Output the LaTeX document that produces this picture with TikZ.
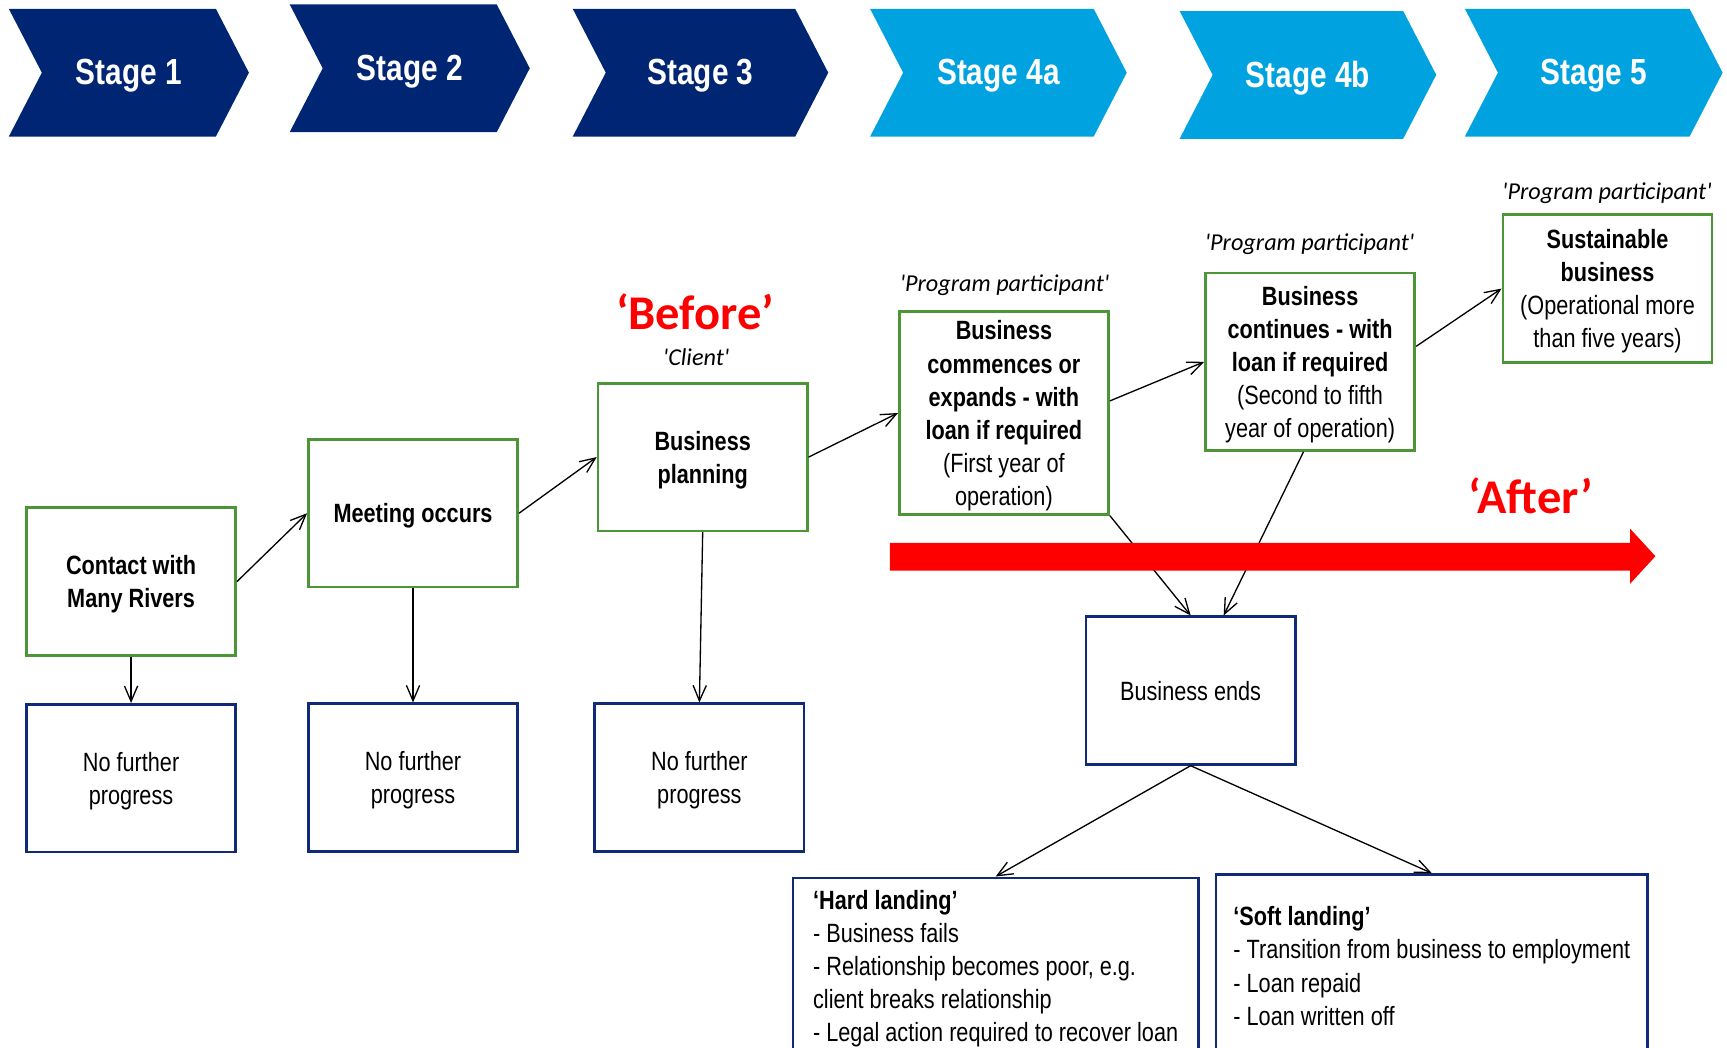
\documentclass[tikz,border=0pt]{standalone}
\usepackage{fontspec}
\setmainfont[FakeStretch=0.82]{Liberation Sans}
\newfontfamily\califont{Carlito}
\usetikzlibrary{arrows.meta}

\definecolor{stagedark}{RGB}{0,38,115}
\definecolor{stagelight}{RGB}{0,163,224}
\definecolor{boxgreen}{RGB}{77,150,55}
\definecolor{boxnavy}{RGB}{16,42,120}

\tikzset{
  stagelabel/.style={text=white, font={\fontsize{16.5}{20}\selectfont\bfseries}},
  stepgreen/.style={draw=boxgreen, line width=1.2pt, minimum width=95pt, minimum height=67pt,
    align=center, inner sep=2pt, text depth=0pt, font={\fontsize{12}{15}\selectfont\bfseries}},
  stepnavy/.style={draw=boxnavy, line width=1.2pt, minimum width=95pt, minimum height=67pt,
    align=center, inner sep=2pt, text depth=0pt, font={\fontsize{12}{15}\selectfont}},
  flow/.style={-{Straight Barb[length=7pt,width=6pt]}, line width=0.6pt},
  role/.style={font={\califont\itshape\fontsize{11}{14}\selectfont}},
  phase/.style={text=red, font={\califont\bfseries\fontsize{22}{26}\selectfont}},
}

\begin{document}
\begin{tikzpicture}[x=0.5pt,y=-0.5pt]
\useasboundingbox (0,0) rectangle (1568,951);

% stage chevrons
\foreach \x/\y/\w/\c/\t in {8/8/188/stagedark/1, 263/4/188/stagedark/2, 520/8/202/stagedark/3,
    790/8/203/stagelight/4a, 1071/10/203/stagelight/4b, 1330/8/204/stagelight/5} {
  \fill[\c] (\x,\y) -- ++(\w,0) -- ++(30,58) -- ++(-30,58) -- ++(-\w,0) -- ++(30,-58) -- cycle;
  \node[stagelabel] (stage\t) at (\x+\w/2+15,\y+61) {Stage \t};
}

% main path
\node[stepgreen] (contact) at (119,528) {Contact with\\Many Rivers};
\node[stepgreen] (meeting) at (375,466) {Meeting occurs};
\node[stepgreen] (planning) at (638,415) {Business\\planning};
\node[stepgreen, minimum height=92pt] (commence) at (911.5,375)
  {Business\\commences or\\expands - with\\loan if required\\\textmd{(First year of}\\\textmd{operation)}};
\node[stepgreen, minimum height=80.5pt] (continue) at (1189.5,328.5)
  {Business\\continues - with\\loan if required\\\textmd{(Second to fifth}\\\textmd{year of operation)}};
\node[stepgreen] (sustain) at (1459.5,262)
  {Sustainable\\business\\\textmd{(Operational more}\\\textmd{than five years)}};

% dead ends
\node[stepnavy] (stop1) at (119,706.5) {No further\\progress};
\node[stepnavy] (stop2) at (375,706) {No further\\progress};
\node[stepnavy] (stop3) at (635,706) {No further\\progress};
\node[stepnavy] (ends) at (1081,627) {Business ends};
\node[stepnavy, align=left, minimum width=184pt, minimum height=80pt] (hard) at (904,877)
  {\textbf{‘Hard landing’}\\- Business fails\\- Relationship becomes poor, e.g.\\client breaks relationship\\- Legal action required to recover loan};
\node[stepnavy, align=left, minimum width=196pt, minimum height=83pt] (soft) at (1300,877)
  {\textbf{‘Soft landing’}\\- Transition from business to employment\\- Loan repaid\\- Loan written off};

% labels
\node[phase] (before) at (631,283) {‘Before’};
\node[role] (client) at (632,324) {\textquotesingle Client\textquotesingle};
\node[role] (role4a) at (912,259) {\textquotesingle Program participant\textquotesingle};
\node[role] (role4b) at (1189,222) {\textquotesingle Program participant\textquotesingle};
\node[role] (role5) at (1459,175) {\textquotesingle Program participant\textquotesingle};
\node[phase] (after) at (1390,450) {‘After’};

% connectors
\draw[flow] (contact.east) -- (meeting.west);
\draw[flow] (meeting.east) -- (planning.west);
\draw[flow] (planning.east) -- (commence.west);
\draw[flow] ([yshift=5.5pt]commence.east) -- (continue.west);
\draw[flow] ([yshift=7pt]continue.east) -- (sustain.west);
\draw[flow] (contact.south) -- (stop1.north);
\draw[flow] (meeting.south) -- (stop2.north);
\draw[flow] (planning.south) -- (stop3.north);
\draw[flow] (commence.south east) -- (ends.north);
\draw[flow] ([xshift=-3pt]continue.south) -- ([xshift=15pt]ends.north);
\draw[flow] (ends.south) -- (hard.north);
\draw[flow] (ends.south) -- (soft.north);

% red time arrow
\fill[red] (808,493) -- (1480,493) -- (1480,480) -- (1503,505) -- (1480,530) -- (1480,518) -- (808,518) -- cycle;

\end{tikzpicture}
\end{document}
